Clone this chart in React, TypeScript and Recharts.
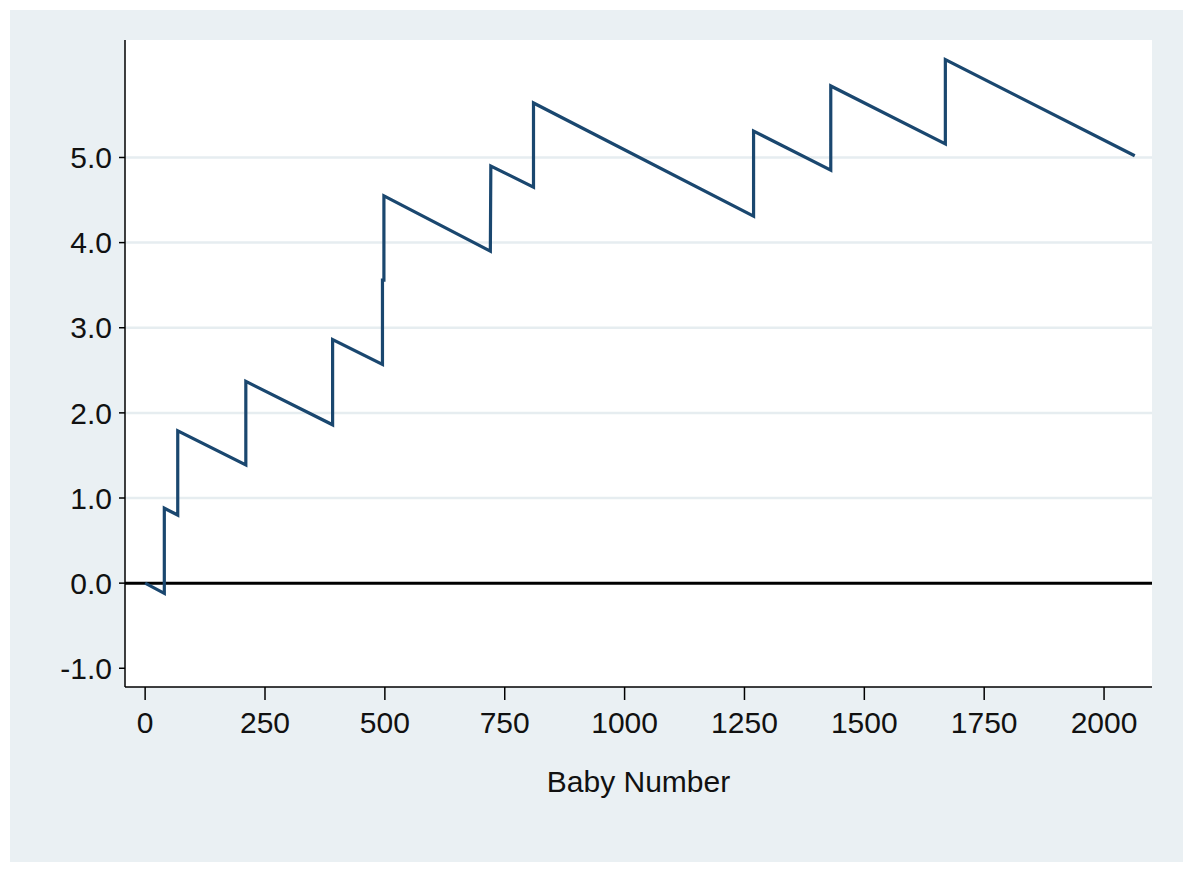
import { LineChart, Line, XAxis, YAxis, CartesianGrid, ReferenceLine } from "recharts";

// CUSUM-like curve
const babyNumber = [
  0, 40, 40, 68, 68, 210, 210, 391, 391, 495, 495, 498, 498, 720, 721, 810,
  810, 1269, 1269, 1430, 1430, 1669, 1669, 2064,
];
const cusumValue = [
  0, -0.12, 0.88, 0.8, 1.79, 1.39, 2.37, 1.86, 2.86, 2.57, 3.56, 3.56, 4.55,
  3.9, 4.9, 4.65, 5.64, 4.31, 5.31, 4.85, 5.84, 5.16, 6.15, 5.02,
];

const xTicks = [0, 250, 500, 750, 1000, 1250, 1500, 1750, 2000];
const yTicks = [-1, 0, 1, 2, 3, 4, 5];
const gridValues = [1, 2, 3, 4, 5];

const chartData = babyNumber.map((x, i) => ({ x, y: cusumValue[i] }));

const font = "'Liberation Sans', Arial, Helvetica, sans-serif";
const navy = "#1A476F";

export default function App() {
  return (
    <div style={{ position: "relative", width: 1184, height: 866 }}>
      <div
        style={{
          position: "absolute",
          left: 2,
          top: 2,
          width: 1173,
          height: 852,
          background: "#EAF0F3",
        }}
      />
      <div style={{ position: "absolute", left: 0, top: 0 }}>
        <LineChart
          width={1184}
          height={866}
          data={chartData}
          margin={{ top: 32, right: 40, bottom: 47, left: 37 }}
        >
          <CartesianGrid
            fill="#ffffff"
            vertical={false}
            horizontalValues={gridValues}
            stroke="#E6EDF0"
            strokeWidth={2.5}
          />
          <XAxis
            type="number"
            dataKey="x"
            domain={[-42, 2100]}
            ticks={xTicks}
            allowDataOverflow
            height={140}
            tickSize={13}
            tickMargin={12}
            stroke="#000"
            strokeWidth={1.5}
            tick={{ fontSize: 30, fill: "#111", fontFamily: font }}
            label={{
              value: "Baby Number",
              position: "insideBottom",
              offset: 35,
              fontSize: 30,
              fill: "#111",
              fontFamily: font,
            }}
          />
          <YAxis
            type="number"
            domain={[-1.22, 6.38]}
            ticks={yTicks}
            allowDataOverflow
            width={80}
            tickSize={6}
            tickMargin={7}
            stroke="#000"
            strokeWidth={1.5}
            tickFormatter={(v: number) => v.toFixed(1)}
            tick={{ fontSize: 30, fill: "#111", fontFamily: font }}
          />
          <ReferenceLine y={0} stroke="#000" strokeWidth={3} />
          <Line
            type="linear"
            dataKey="y"
            stroke={navy}
            strokeWidth={3.2}
            dot={false}
            strokeLinejoin="miter"
            isAnimationActive={false}
          />
        </LineChart>
      </div>
    </div>
  );
}
